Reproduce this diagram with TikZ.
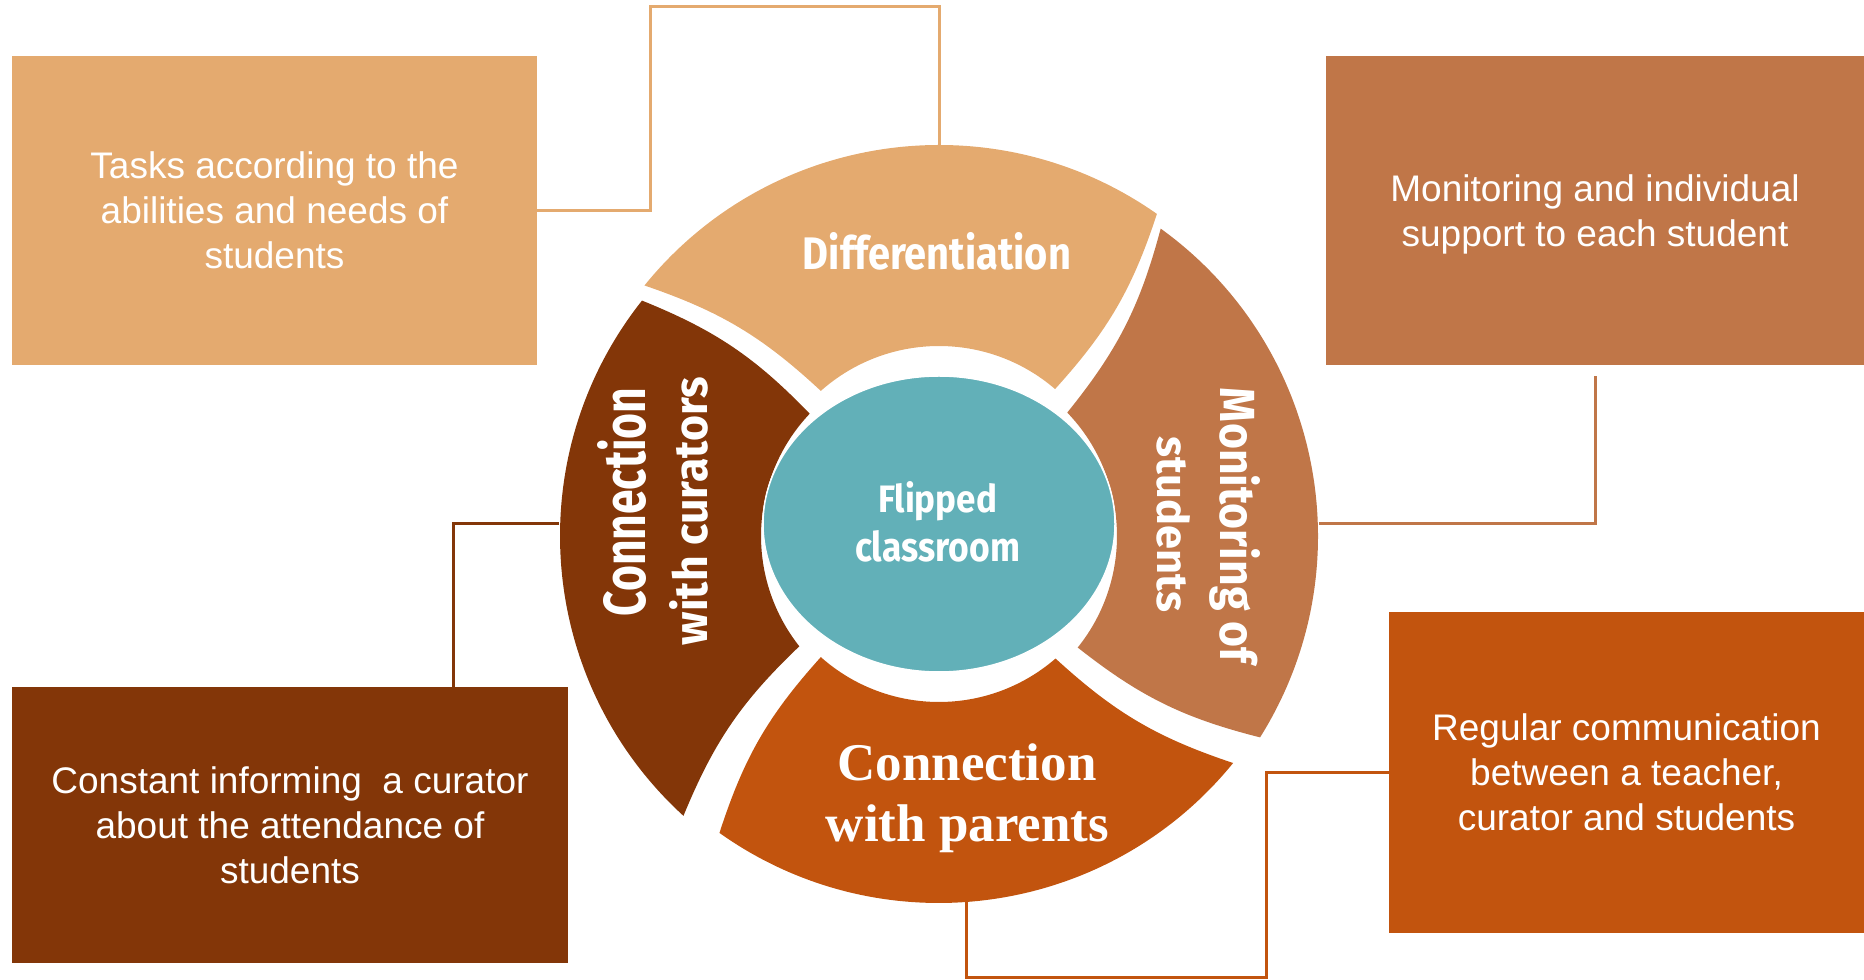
\documentclass[tikz,border=0pt]{standalone}
\usepackage{fontspec}
\usepackage{graphicx}
\setmainfont{Liberation Sans}
\newfontfamily\labelfont{Fira Sans}
\newfontfamily\parentfont{Liberation Serif}
\usetikzlibrary{shapes.geometric}

\definecolor{diffcol}{HTML}{E4AA6F}
\definecolor{moncol}{HTML}{C07648}
\definecolor{parcol}{HTML}{C2540E}
\definecolor{curcol}{HTML}{833608}
\definecolor{flipcol}{HTML}{62B0B8}

\begin{document}
\begin{tikzpicture}[x=1pt,y=1pt,
    infobox/.style={rectangle,inner sep=0pt,align=center,text=white,
      font=\fontsize{37}{45}\selectfont},
    link/.style={line width=3pt},
    seglabel/.style={text=white,inner sep=0pt,anchor=base,font=\labelfont\bfseries},
    parlabel/.style={seglabel,font=\parentfont\bfseries\fontsize{53}{61}\selectfont}]
  \useasboundingbox (0,0) rectangle (1864,980);

  % ring segments
  \fill[diffcol] ([shift={(54.9:379pt)}]939,456) arc[start angle=54.9,end angle=141,radius=379pt]
    to[bend left=12] ([shift={(131.6:178pt)}]939,456) arc[start angle=131.6,end angle=49.3,radius=178pt]
    to[bend right=12] ([shift={(54.9:379pt)}]939,456) -- cycle;
  \fill[moncol] ([shift={(-32.1:379pt)}]939,444) arc[start angle=-32.1,end angle=54.2,radius=379pt]
    to[bend left=12] ([shift={(43.9:178pt)}]939,444) arc[start angle=43.9,end angle=-38.8,radius=178pt]
    to[bend right=12] ([shift={(-32.1:379pt)}]939,444) -- cycle;
  \fill[parcol] ([shift={(-125.4:379pt)}]939,456) arc[start angle=-125.4,end angle=-39.1,radius=379pt]
    to[bend left=12] ([shift={(-49.1:178pt)}]939,456) arc[start angle=-49.1,end angle=-131.6,radius=178pt]
    to[bend right=12] ([shift={(-125.4:379pt)}]939,456) -- cycle;
  \fill[curcol] ([shift={(141.6:379pt)}]939,444) arc[start angle=141.6,end angle=227.6,radius=379pt]
    to[bend left=12] ([shift={(218.3:178pt)}]939,444) arc[start angle=218.3,end angle=136.6,radius=178pt]
    to[bend right=12] ([shift={(141.6:379pt)}]939,444) -- cycle;

  \node[ellipse,fill=flipcol,draw=white,line width=1.5pt,inner sep=0pt,
    minimum width=352pt,minimum height=296pt] (flip) at (939,456) {};

  % labels on the ring
  \node[seglabel] (fc1) at (937.5,467) {\resizebox{119pt}{31pt}{Flipped}};
  \node[seglabel] (fc2) at (937.5,418) {\resizebox{165pt}{31pt}{classroom}};
  \node[seglabel] (diffl) at (937,710) {\resizebox{268pt}{37pt}{Differentiation}};
  \node[seglabel,rotate=90] (cur1) at (645,478) {\resizebox{229pt}{48pt}{Connection}};
  \node[seglabel,rotate=90] (cur2) at (707,469) {\resizebox{268pt}{38pt}{with curators}};
  \node[seglabel,rotate=-90] (mon1) at (1220,454.5) {\resizebox{275pt}{40pt}{Monitoring of}};
  \node[seglabel,rotate=-90] (mon2) at (1157,455.5) {\resizebox{175pt}{33pt}{students}};
  \node[parlabel] (par1) at (967,199) {Connection};
  \node[parlabel] (par2) at (967.5,138) {with parents};

  % boxes
  \node[infobox,fill=diffcol,minimum width=525pt,minimum height=309pt] (tasks) at (274.5,769.5)
    {Tasks according to the\\abilities and needs of\\students};
  \node[infobox,fill=moncol,minimum width=538pt,minimum height=309pt] (monbox) at (1595,769.5)
    {\rule{0pt}{35pt}Monitoring and individual\\support to each student};
  \node[infobox,fill=curcol,minimum width=556pt,minimum height=276pt] (curbox) at (290,155)
    {Constant informing\ \ a curator\\about the attendance of\\students};
  \node[infobox,fill=parcol,minimum width=475pt,minimum height=321pt] (parbox) at (1626.5,207.5)
    {Regular communication\\between a teacher,\\curator and students};

  % connectors
  \coordinate (dtop) at (939,835);
  \coordinate (tkink) at (650,973);
  \coordinate (mright) at (1319,456);
  \coordinate (pbot) at (966,78);
  \coordinate (pkink) at (1266,2);
  \coordinate (cleft) at (559,456);

  \draw[link,diffcol] (tasks.east) -| (tkink) -| (dtop);
  \draw[link,moncol] ([yshift=-11pt]monbox.south) |- (mright);
  \draw[link,parcol] (parbox.west) -| (pkink) -| (pbot);
  \draw[link,curcol] (cleft) -| ([xshift=163pt]curbox.north);
\end{tikzpicture}
\end{document}
